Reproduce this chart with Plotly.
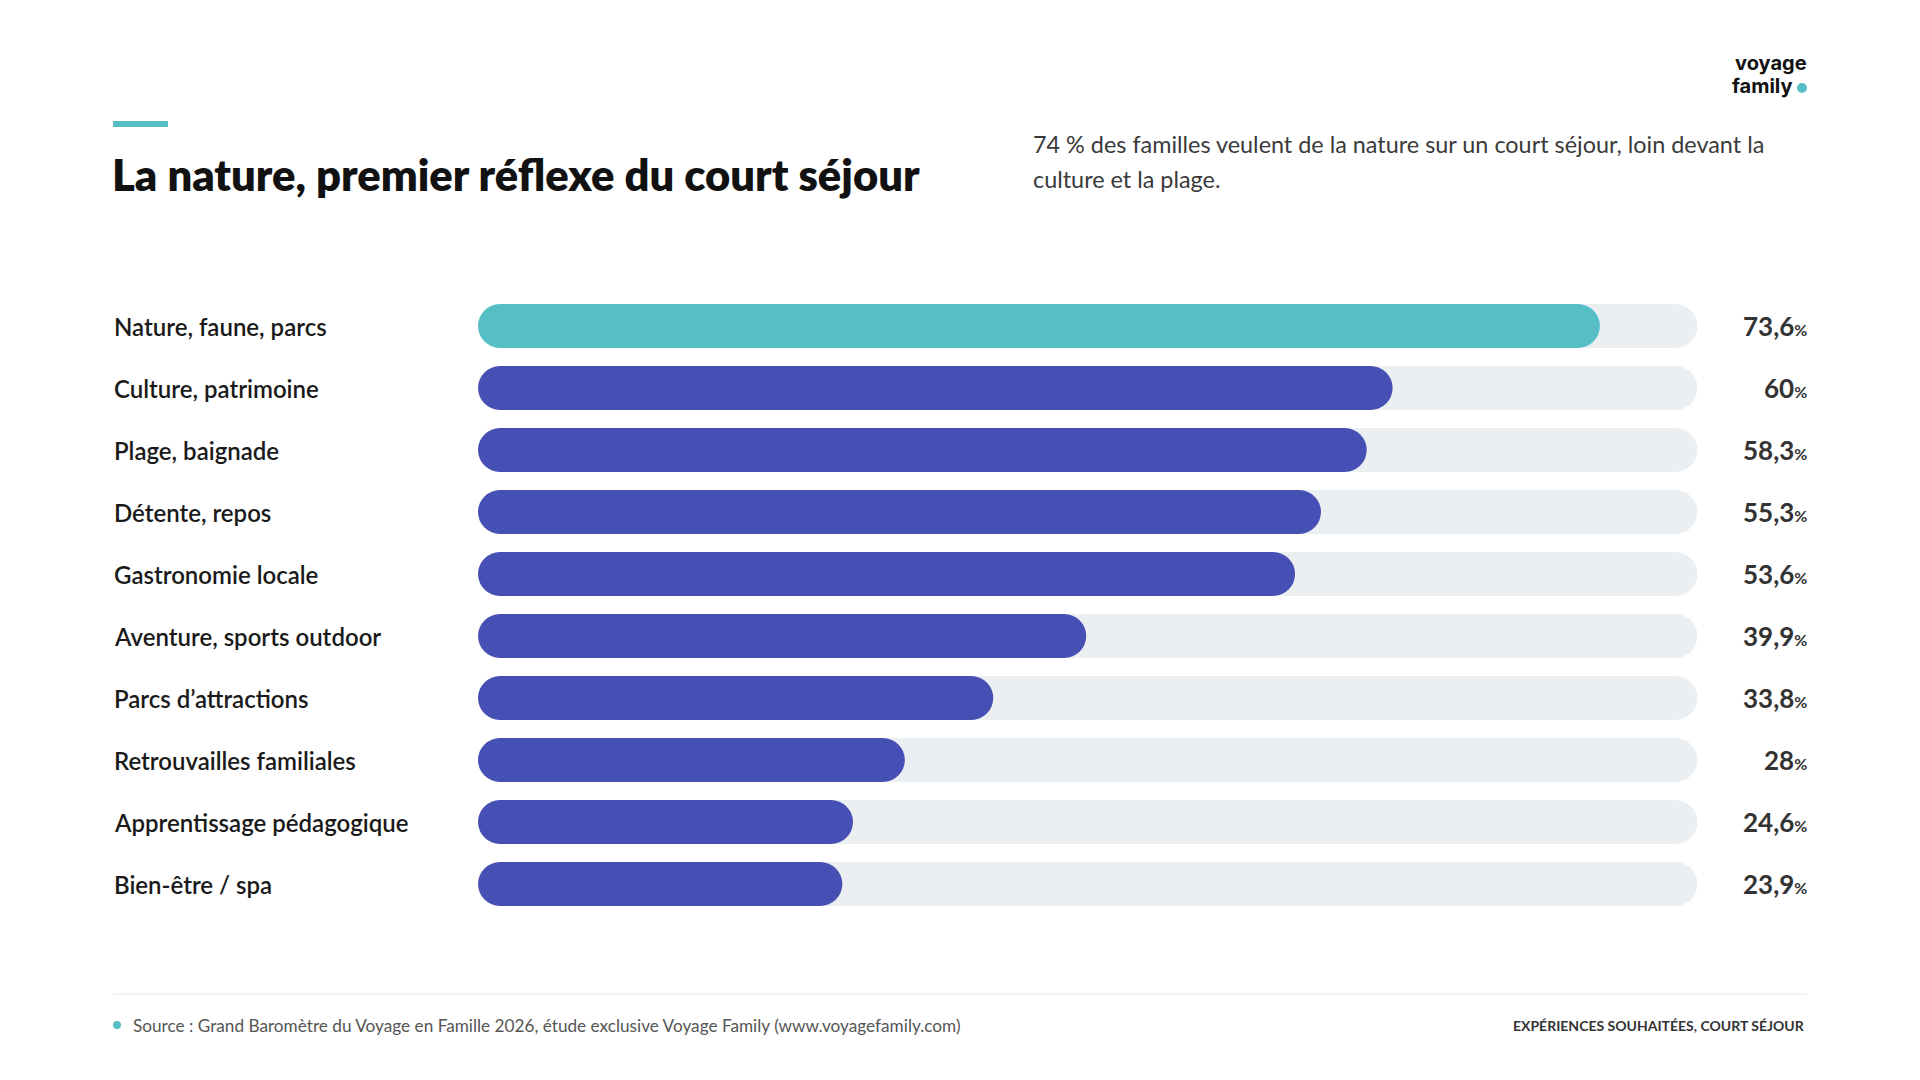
import plotly.graph_objects as go

categories = ["Nature, faune, parcs", "Culture, patrimoine", "Plage, baignade", "Détente, repos",
              "Gastronomie locale", "Aventure, sports outdoor", "Parcs d’attractions",
              "Retrouvailles familiales", "Apprentissage pédagogique", "Bien-être / spa"]
values = [73.6, 60, 58.3, 55.3, 53.6, 39.9, 33.8, 28, 24.6, 23.9]
value_labels = ["73,6", "60", "58,3", "55,3", "53,6", "39,9", "33,8", "28", "24,6", "23,9"]
track_max = 80

W, H = 1920, 1080
TEAL = "#56BEC5"
BLUE = "#4650B4"
TRACK = "#ECEFF2"
FONT = "Lato"

x_left_px, x_right_px = 478, 1697.5
top_px, bottom_px = 295, 915
bar_px = 44
step_px = (bottom_px - top_px) / len(categories)
base0 = 0.001  # explicit base so plotly rounds both ends of each bar

colors = [TEAL] + [BLUE] * (len(categories) - 1)
n = len(categories)
bw = bar_px / step_px

fig = go.Figure()
# track
fig.add_trace(go.Bar(y=categories, x=[track_max - base0] * n, base=base0,
                     orientation="h", marker=dict(color=TRACK, line=dict(width=0)),
                     width=bw, hoverinfo="skip", showlegend=False))
# value bars
fig.add_trace(go.Bar(y=categories, x=[v - base0 for v in values], base=base0,
                     orientation="h", marker=dict(color=colors, line=dict(width=0)),
                     width=bw, showlegend=False,
                     customdata=values, hovertemplate="%{y}: %{customdata}%<extra></extra>"))

fig.update_layout(
    width=W, height=H, margin=dict(l=0, r=0, t=0, b=0),
    paper_bgcolor="white", plot_bgcolor="white",
    barmode="overlay", barcornerradius=bar_px // 2,
    xaxis=dict(domain=[x_left_px / W, x_right_px / W], range=[0, track_max],
               visible=False, fixedrange=True),
    yaxis=dict(domain=[1 - bottom_px / H, 1 - top_px / H], range=[n - 0.5, -0.5],
               visible=False, categoryorder="array", categoryarray=categories, fixedrange=True),
)

ann = []
for c, lab in zip(categories, value_labels):
    ann.append(dict(x=112 / W, xref="paper", y=c, yref="y", text=c, showarrow=False,
                    xanchor="left", yanchor="middle",
                    font=dict(family=FONT, size=24, color="#1a1a1a", weight=600)))
    ann.append(dict(x=1809 / W, xref="paper", y=c, yref="y",
                    text=f"{lab}<span style='font-size:16px'>%</span>", showarrow=False,
                    xanchor="right", yanchor="middle",
                    font=dict(family=FONT, size=26, color="#333333", weight=700)))

def py(p):
    return 1 - p / H

ann += [
    dict(x=110 / W, y=py(174), xref="paper", yref="paper", xanchor="left", yanchor="middle",
         text="La nature, premier réflexe du court séjour", showarrow=False,
         font=dict(family=FONT, size=43.5, color="#111111", weight=800)),
    dict(x=1031 / W, y=py(144), xref="paper", yref="paper", xanchor="left", yanchor="middle",
         showarrow=False,
         text="74 % des familles veulent de la nature sur un court séjour, loin devant la",
         font=dict(family=FONT, size=23.4, color="#3a3a3a")),
    dict(x=1031 / W, y=py(179), xref="paper", yref="paper", xanchor="left", yanchor="middle",
         showarrow=False, text="culture et la plage.",
         font=dict(family=FONT, size=23.4, color="#3a3a3a")),
    dict(x=1808 / W, y=py(63), xref="paper", yref="paper", xanchor="right", yanchor="middle",
         text="voyage", showarrow=False, borderpad=0,
         font=dict(family="Inter", size=20, color="#111111", weight=700)),
    dict(x=1794 / W, y=py(86), xref="paper", yref="paper", xanchor="right", yanchor="middle",
         text="family", showarrow=False, borderpad=0,
         font=dict(family="Inter", size=20, color="#111111", weight=700)),
    dict(x=131 / W, y=py(1025), xref="paper", yref="paper", xanchor="left", yanchor="middle",
         text="Source : Grand Baromètre du Voyage en Famille 2026, étude exclusive Voyage Family (www.voyagefamily.com)",
         showarrow=False, font=dict(family=FONT, size=17.2, color="#555555")),
    dict(x=1807 / W, y=py(1025), xref="paper", yref="paper", xanchor="right", yanchor="middle",
         text="EXPÉRIENCES SOUHAITÉES, COURT SÉJOUR", showarrow=False,
         font=dict(family=FONT, size=14, color="#333333", weight=700)),
]
fig.update_layout(annotations=ann)

shapes = [
    dict(type="line", xref="paper", yref="paper", x0=113 / W, x1=168 / W, y0=py(124), y1=py(124),
         line=dict(color=TEAL, width=6)),
    dict(type="line", xref="paper", yref="paper", x0=113 / W, x1=1807 / W, y0=py(994), y1=py(994),
         line=dict(color="#E6E6E6", width=1)),
    dict(type="circle", xref="paper", yref="paper", x0=113 / W, x1=121 / W, y0=py(1029), y1=py(1021),
         fillcolor=TEAL, line=dict(width=0)),
    dict(type="circle", xref="paper", yref="paper", x0=1797 / W, x1=1807 / W, y0=py(93), y1=py(83),
         fillcolor=TEAL, line=dict(width=0)),
]
fig.update_layout(shapes=shapes)

fig.write_html("out.html")
